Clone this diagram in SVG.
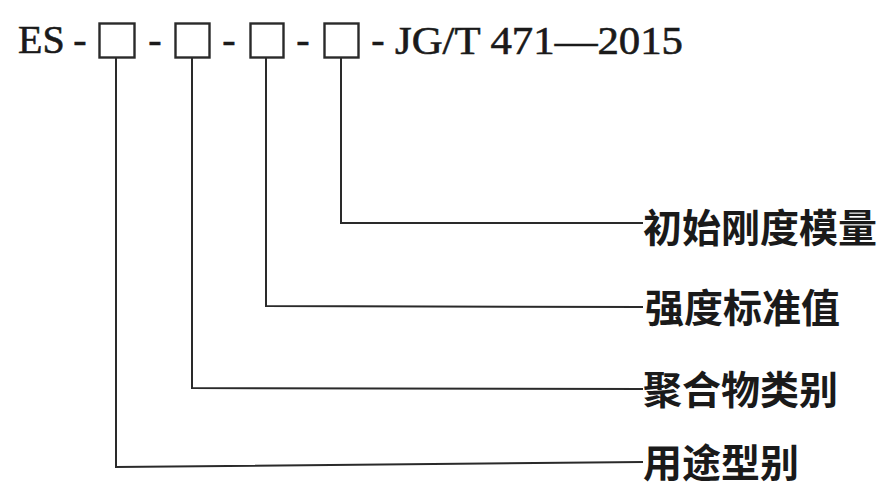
<svg xmlns="http://www.w3.org/2000/svg" width="887" height="488" viewBox="0 0 887 488">
<style>
.t{font-family:"Liberation Serif","DejaVu Serif",serif;font-size:40px;fill:#1a1a1a;stroke:#1a1a1a;stroke-width:0.6}
.c{font-family:"Noto Sans CJK SC","Noto Sans CJK JP",sans-serif;font-size:39px;fill:#1a1a1a;font-weight:bold}
.b{fill:none;stroke:#2a2a2a;stroke-width:2.4}
.w{fill:none;stroke:#2a2a2a;stroke-width:2}
</style>
<rect width="887" height="488" fill="#ffffff"/>
<g id="code">
<text class="t" x="18" y="53">ES</text>
<text class="t" x="80" y="53" text-anchor="middle">-</text>
<rect id="box1" class="b" x="99.5" y="23.5" width="35" height="34"/>
<text class="t" x="155" y="53" text-anchor="middle">-</text>
<rect id="box2" class="b" x="175.5" y="23.5" width="34" height="34"/>
<text class="t" x="229" y="53" text-anchor="middle">-</text>
<rect id="box3" class="b" x="250.5" y="23.5" width="33" height="34"/>
<text class="t" x="303" y="53" text-anchor="middle">-</text>
<rect id="box4" class="b" x="324.5" y="23.5" width="34" height="34"/>
<text class="t" x="378" y="53" text-anchor="middle">-</text>
<text class="t" x="395" y="54" textLength="288" lengthAdjust="spacingAndGlyphs">JG/T 471—2015</text>
</g>
<g id="connectors">
<polyline class="w" points="341,58 341,223 643,223"/>
<polyline class="w" points="266,58 266,306 643,307"/>
<polyline class="w" points="192,58 192,388 643,389"/>
<polyline class="w" points="116,58 116,467 643,462"/>
</g>
<g id="label1"><text class="c" x="643" y="242">初始刚度模量</text></g>
<g id="label2"><text class="c" x="645" y="322">强度标准值</text></g>
<g id="label3"><text class="c" x="643" y="404">聚合物类别</text></g>
<g id="label4"><text class="c" x="643" y="477">用途型别</text></g>
</svg>
